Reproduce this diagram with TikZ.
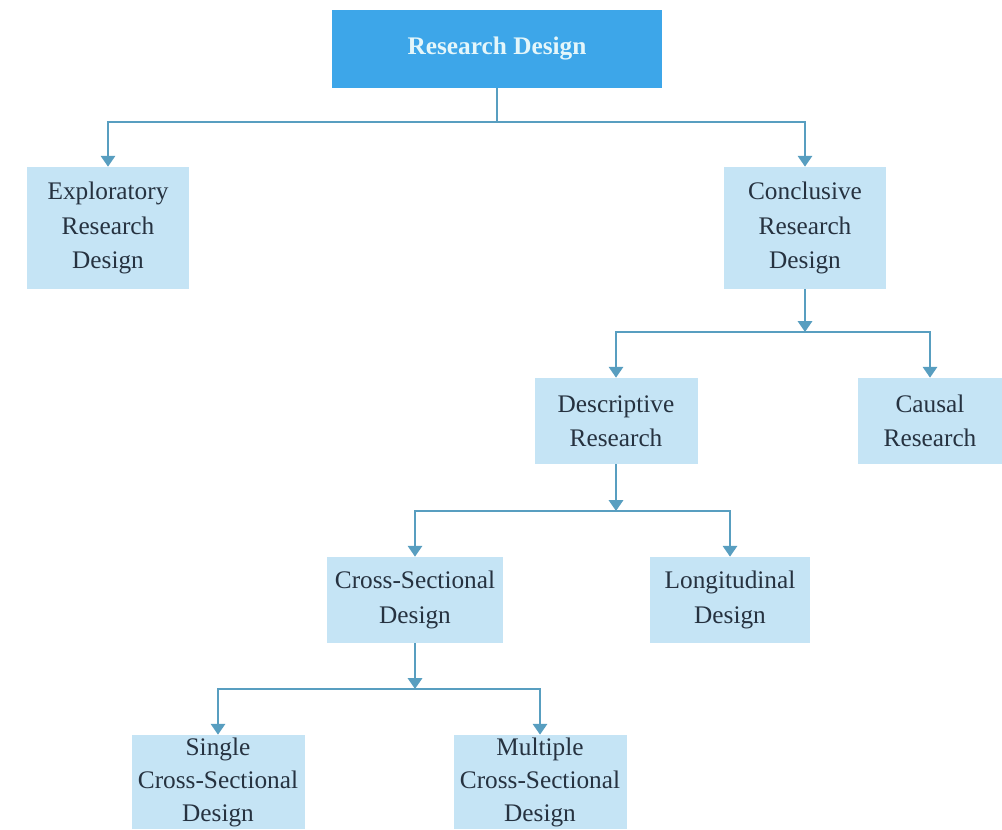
\documentclass[tikz,border=0pt]{standalone}
\usepackage{fontspec}
\setmainfont{Liberation Serif}
\usepackage{tikz}
\usetikzlibrary{arrows.meta}

\definecolor{topblue}{RGB}{61,166,233}
\definecolor{boxblue}{RGB}{197,228,245}
\definecolor{linkblue}{RGB}{88,158,192}
\definecolor{inkgray}{RGB}{38,50,64}
\definecolor{paletext}{RGB}{228,246,250}

\begin{document}
\begin{tikzpicture}[x=0.25mm, y=-0.25mm]
    \tikzstyle{every node}=[font=\fontsize{18}{24.5}\selectfont, align=center, inner sep=0pt]
    \tikzstyle{box}=[fill=boxblue, text=inkgray]
    \tikzstyle{link}=[draw=linkblue, line width=2.1pt, >={Triangle[length=2.7mm,width=3.5mm]}]

    \useasboundingbox (0,0) rectangle (1002,829);

    \node[fill=topblue, text=paletext, font=\fontsize{18}{24.5}\selectfont\bfseries,
          minimum width=82.5mm, minimum height=19.5mm] (root) at (497,49) {Research Design};

    \node[box, minimum width=40.5mm, minimum height=30.5mm] (explor) at (108,228) {Exploratory\\Research\\Design};
    \node[box, minimum width=40.5mm, minimum height=30.5mm] (concl) at (805,228) {Conclusive\\Research\\Design};
    \node[box, minimum width=40.75mm, minimum height=21.5mm] (descr) at (616,421) {Descriptive\\Research};
    \node[box, minimum width=36mm, minimum height=21.5mm] (causal) at (930,421) {Causal\\Research};
    \node[box, minimum width=44mm, minimum height=21.5mm] (cross) at (415,600) {Cross-Sectional\\Design};
    \node[box, minimum width=40mm, minimum height=21.5mm] (longi) at (730,600) {Longitudinal\\Design};
    \node[box, minimum width=43.25mm, minimum height=23.5mm,
          font=\fontsize{18}{23.5}\selectfont] (single) at (218,782) {Single\\Cross-Sectional\\Design};
    \node[box, minimum width=43.25mm, minimum height=23.5mm,
          font=\fontsize{18}{23.5}\selectfont] (multi) at (540,782) {Multiple\\Cross-Sectional\\Design};

    % junctions on the bars
    \coordinate (j1) at (497,122);
    \coordinate (j2) at (805,332);
    \coordinate (j3) at (616,511);
    \coordinate (j4) at (415,689);

    \draw[link]    (root) -- (j1);
    \draw[link,->] (j1) -| (explor);
    \draw[link,->] (j1) -| (concl);

    \draw[link,->] (concl) -- (j2);
    \draw[link,->] (j2) -| (descr);
    \draw[link,->] (j2) -| (causal);

    \draw[link,->] (descr) -- (j3);
    \draw[link,->] (j3) -| (cross);
    \draw[link,->] (j3) -| (longi);

    \draw[link,->] (cross) -- (j4);
    \draw[link,->] (j4) -| (single);
    \draw[link,->] (j4) -| (multi);
\end{tikzpicture}
\end{document}
